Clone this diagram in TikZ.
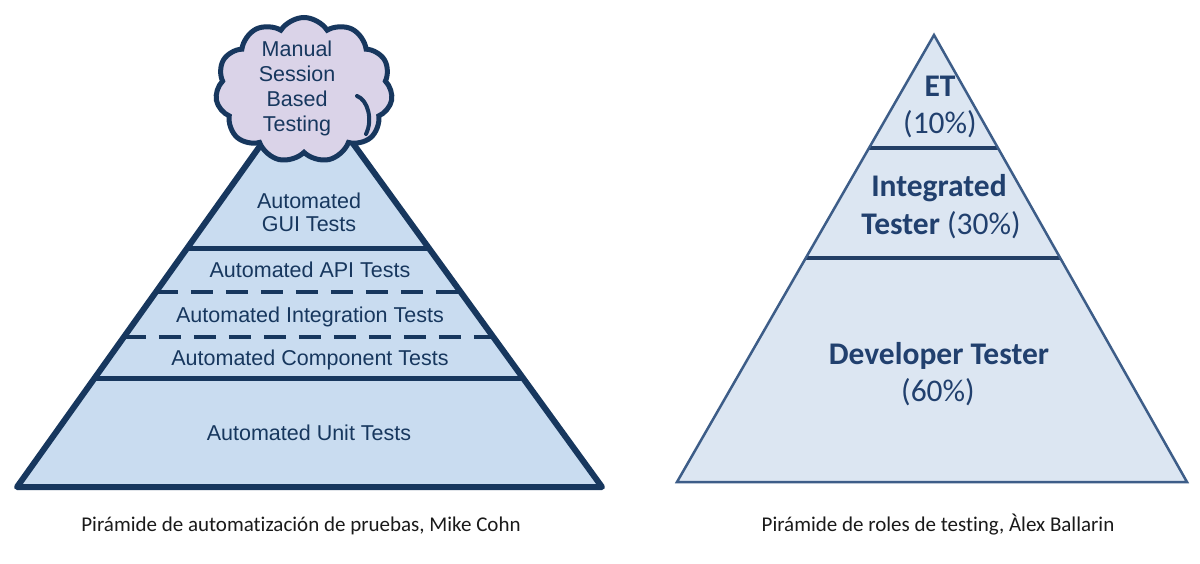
\documentclass[tikz,border=0pt]{standalone}
\usepackage{fontspec}
\setmainfont{Liberation Sans}
\newfontfamily\calfont[Ligatures=NoCommon]{Carlito}
\usetikzlibrary{shapes.symbols,calc}
\definecolor{navy}{HTML}{17375E}
\definecolor{leftfill}{HTML}{C9DCF0}
\definecolor{lavender}{HTML}{DAD3E8}
\definecolor{rightfill}{HTML}{DCE6F2}
\definecolor{rightedge}{HTML}{3D5D88}
\definecolor{rightline}{HTML}{233F66}
\definecolor{righttextc}{HTML}{21406E}
\definecolor{captionc}{HTML}{1A1A1A}
\tikzset{
  leftoutline/.style={draw=navy, line width=6pt, line join=round},
  leftsolid/.style={draw=navy, line width=5pt},
  leftdashed/.style={draw=navy, line width=4pt, dash pattern=on 22pt off 13pt},
  cloudshape/.style={cloud, cloud puffs=11, cloud puff arc=115, aspect=1.2,
    draw=navy, line width=5pt, fill=lavender, minimum width=177pt,
    minimum height=145pt, inner sep=0pt},
  lefttext/.style={font=\fontsize{21.5}{25}\selectfont, text=navy, anchor=base, inner sep=0pt},
  rightoutline/.style={draw=rightedge, line width=2.5pt, line join=miter},
  rightdiv/.style={draw=rightline, line width=4pt},
  righttext/.style={font=\calfont\fontsize{31.5}{37}\selectfont, text=righttextc, anchor=base, inner sep=0pt},
  captiontext/.style={font=\calfont\fontsize{21}{25}\selectfont, text=captionc, anchor=base, inner sep=0pt}
}
\begin{document}
\begin{tikzpicture}[x=1pt,y=-1pt]
\useasboundingbox[fill=white] (0,0) rectangle (1200,564);
% ---------- left pyramid ----------
\coordinate (LA) at (307,80);
\coordinate (LB) at (17,487);
\coordinate (LC) at (602,487);
\fill[leftfill] (LB) -- (LA) -- (LC) -- cycle;
\draw[leftsolid]  ($(LB)!0.5872!(LA)$) -- ($(LC)!0.5872!(LA)$);
\draw[leftdashed] ($(LB)!0.4791!(LA)$) -- ($(LC)!0.4791!(LA)$);
\draw[leftdashed] ($(LB)!0.3686!(LA)$) -- ($(LC)!0.3686!(LA)$);
\draw[leftsolid]  ($(LB)!0.2654!(LA)$) -- ($(LC)!0.2654!(LA)$);
\draw[leftoutline] (LB) -- (LA) -- (LC) -- cycle;
% cloud
\node[cloudshape] (cloud) at (304,90) {};
\draw[navy, line width=4pt, line cap=round] (357,96) .. controls (368,100) and (373,120) .. (366,134);
\node[lefttext] (c1) at (297,57) {Manual};
\node[lefttext] (c2) at (297,82) {Session};
\node[lefttext] (c3) at (297,107) {Based};
\node[lefttext] (c4) at (297,132) {Testing};
% left labels
\node[lefttext] (gui1) at (309,209) {Automated};
\node[lefttext] (gui2) at (309,232) {GUI Tests};
\node[lefttext] (api) at (310,278) {Automated API Tests};
\node[lefttext] (integ) at (310,322) {Automated Integration Tests};
\node[lefttext] (comp) at (310,365) {Automated Component Tests};
\node[lefttext] (unit) at (309,440) {Automated Unit Tests};
% ---------- right pyramid ----------
\coordinate (RA) at (934,35);
\coordinate (RB) at (677,482);
\coordinate (RC) at (1187,482);
\fill[rightfill] (RB) -- (RA) -- (RC) -- cycle;
\draw[rightdiv] ($(RB)!0.7472!(RA)$) -- ($(RC)!0.7472!(RA)$);
\draw[rightdiv] ($(RB)!0.5011!(RA)$) -- ($(RC)!0.5011!(RA)$);
\draw[rightoutline] (RB) -- (RA) -- (RC) -- cycle;
\node[righttext] (et1) at (940,97) {\bfseries ET};
\node[righttext] (et2) at (940,134) {(10\%)};
\node[righttext] (it1) at (939,197) {\bfseries Integrated};
\node[righttext] (it2) at (941,235) {{\bfseries Tester} (30\%)};
\node[righttext] (dt1) at (939,364) {\bfseries Developer Tester};
\node[righttext] (dt2) at (938,401) {(60\%)};
% captions
\node[captiontext] (capl) at (301,531) {Pirámide de automatización de pruebas, Mike Cohn};
\node[captiontext] (capr) at (938,531) {Pirámide de roles de testing, Àlex Ballarin};
\end{tikzpicture}
\end{document}
